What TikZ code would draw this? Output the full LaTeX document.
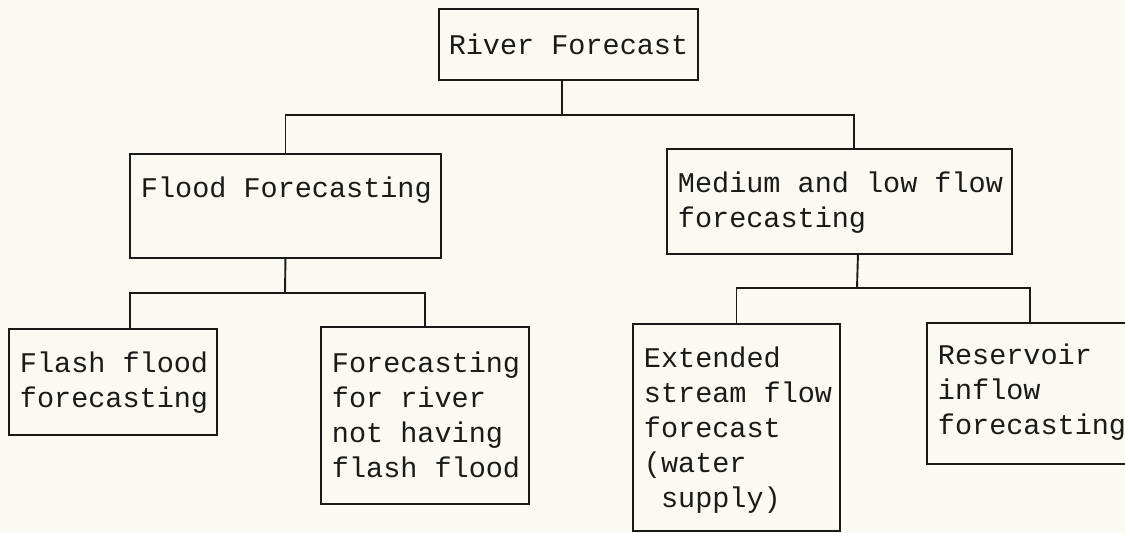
\documentclass[tikz,border=0pt]{standalone}
\usepackage{fontspec}
% fixed-width word spaces, no stretch or shrink
\newfontfamily\mono[WordSpace={1,0,0}]{Liberation Mono}
\hfuzz=10pt
\definecolor{paper}{RGB}{251,250,242}
\definecolor{ink}{RGB}{28,26,24}
\tikzset{
  rule/.style={draw=ink, line width=0.95pt},
  plainbox/.style={rule, inner sep=0pt, font=\mono\fontsize{14.25}{17.5}\selectfont, text=ink},
  % box with its text hung from the top-left corner
  % #1 = text width, #2 = first baseline below the top, #3 = depth below the first baseline
  leafbox/.style n args={3}{plainbox, anchor=north west, align=left,
    inner xsep=5.5pt, inner ysep=0pt,
    text width=#1, text height=#2, text depth=#3,
    execute at begin node={\spaceskip=0pt\xspaceskip=0pt\hyphenpenalty=10000\relax}},
}
\begin{document}
\begin{tikzpicture}[x=0.5pt, y=-0.5pt]
  \fill[paper] (0,0) rectangle (1125,533);
  \useasboundingbox (0,0) rectangle (1125,533);

  % boxes
  \node[plainbox, minimum width=129.5pt, minimum height=35.5pt] (river) at (568.5,44.5) {River Forecast};
  \node[leafbox={144.5pt}{22pt}{30pt}] (flood) at (129,153) {\mbox{Flood Forecasting}};
  \node[leafbox={161.5pt}{22pt}{30.5pt}] (medium) at (666,148) {\mbox{Medium and low flow}\\forecasting};
  \node[leafbox={93pt}{22pt}{31pt}] (flash) at (8,328) {\mbox{Flash flood}\\forecasting};
  \node[leafbox={93pt}{23pt}{65.5pt}] (notflash) at (320,326) {\mbox{Forecasting}\\\mbox{for river}\\\mbox{not having}\\\mbox{flash flood}};
  \node[leafbox={92.5pt}{22pt}{81.5pt}] (extended) at (632,323) {Extended\\\mbox{stream flow}\\forecast\\(water\\\hspace*{0.6em}supply)};
  \node[leafbox={92pt}{21pt}{49.5pt}] (reservoir) at (926,322) {Reservoir\\inflow\\\mbox{forecasting}};

  % junction points of the tree
  \coordinate (j1) at (562,115);
  \coordinate (j2) at (285,293);
  \coordinate (j3) at (857,288);

  % connectors
  \draw[rule] (j1 |- river.south) -- (j1);
  \draw[rule] (flood.north) |- (j1) -| ([xshift=7.25pt]medium.north);

  \draw[rule] (flood.south) -- (j2);
  \draw[rule] ([xshift=8.5pt]flash.north) |- (j2) -| (notflash.north);

  \draw[rule] ([xshift=9.25pt]medium.south) -- (j3);
  \draw[rule] (extended.north) |- (j3) -| (reservoir.north);
\end{tikzpicture}
\end{document}
